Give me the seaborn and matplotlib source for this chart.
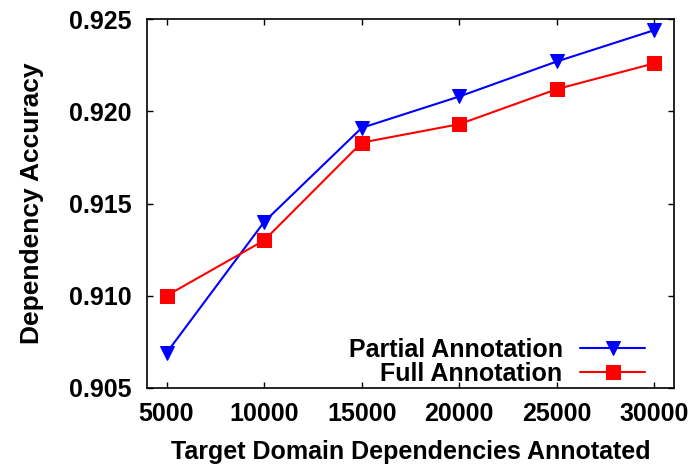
import matplotlib
matplotlib.use("Agg")
import matplotlib.pyplot as plt
import seaborn as sns
import pandas as pd

x_values = [5000, 10000, 15000, 20000, 25000, 30000]
partial_acc = [0.9069, 0.9140, 0.9191, 0.9208, 0.9227, 0.9244]
full_acc = [0.9100, 0.9130, 0.9183, 0.9193, 0.9212, 0.9226]
series_names = ["Partial Annotation", "Full Annotation"]
y_ticks = [0.905, 0.910, 0.915, 0.920, 0.925]

sns.set_style("ticks")
plt.rcParams['font.family'] = ['Liberation Sans', 'DejaVu Sans']
plt.rcParams['font.weight'] = 'bold'
for k in ['text.color', 'axes.labelcolor', 'xtick.color', 'ytick.color', 'axes.edgecolor']:
    plt.rcParams[k] = 'black'

df_p = pd.DataFrame({"x": x_values, "y": partial_acc})
df_f = pd.DataFrame({"x": x_values, "y": full_acc})

fig = plt.figure(figsize=(6.95, 4.66), dpi=100)
ax = fig.add_axes([0.2115, 0.1674, 0.7583, 0.7918])

sns.lineplot(data=df_p, x="x", y="y", ax=ax, color="#0000ff", marker="v",
             markersize=10, markeredgecolor="#0000ff", linewidth=1.5,
             label=series_names[0])
sns.lineplot(data=df_f, x="x", y="y", ax=ax, color="#ff0000", marker="s",
             markersize=10, markeredgecolor="#ff0000", linewidth=1.5,
             label=series_names[1])

ax.set_xlim(4000, 31000)
ax.set_ylim(0.905, 0.925)
ax.set_xticks(x_values)
ax.set_yticks(y_ticks)
ax.set_yticklabels([f"{v:.3f}" for v in y_ticks])
ax.tick_params(direction="in", top=True, right=True, length=4.5, width=1,
               labelsize=18)
ax.tick_params(axis="y", pad=11)
ax.tick_params(axis="x", pad=10)
for lab in ax.get_xticklabels() + ax.get_yticklabels():
    lab.set_fontweight("bold")
for s in ax.spines.values():
    s.set_linewidth(1.2)
    s.set_visible(True)

ax.set_xlabel("Target Domain Dependencies Annotated", fontsize=18,
              fontweight="bold", labelpad=10)
ax.set_ylabel("Dependency Accuracy", fontsize=19, fontweight="bold", labelpad=18)

leg = ax.legend(loc="lower right", bbox_to_anchor=(498 / 527, 0.005), frameon=False,
                markerfirst=False, fontsize=18, handlelength=2.6,
                labelspacing=0.0, handletextpad=0.7, borderaxespad=0.0,
                borderpad=0.0)
for t in leg.get_texts():
    t.set_fontweight("bold")

fig.savefig("out.png", dpi=100)
